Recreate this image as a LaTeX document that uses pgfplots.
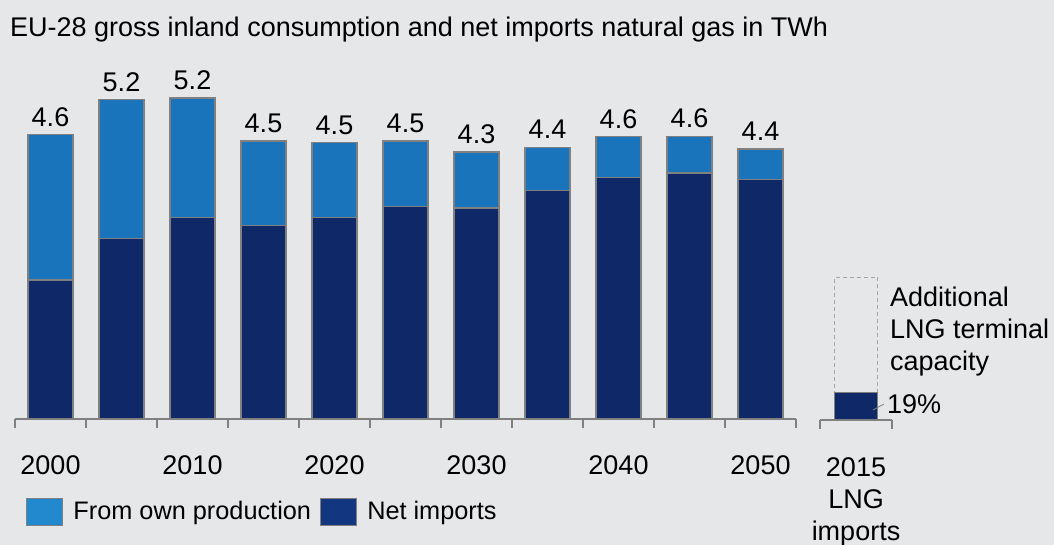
\documentclass[border=0pt]{standalone}
\usepackage{pgfplots}
\pgfplotsset{compat=1.18}
\usepackage{pgfplotstable}
\usepackage{fontspec}
\setmainfont{Liberation Sans}
\definecolor{bg}{HTML}{E6E7E9}
\definecolor{own}{HTML}{1A74BB}
\definecolor{net}{HTML}{0F2868}
\definecolor{ownleg}{HTML}{2389CF}
\definecolor{netleg}{HTML}{12367F}
\definecolor{edge}{HTML}{808080}
\newcommand{\bigfont}{\fontsize{27}{32}\selectfont}
\newcommand{\legfont}{\fontsize{25.3}{32}\selectfont}

\pgfplotstableread{
x net own total lab
0 2.26 2.36 4.62 4.6
1 2.94 2.25 5.19 5.2
2 3.27 1.95 5.22 5.2
3 3.14 1.38 4.52 4.5
4 3.27 1.22 4.49 4.5
5 3.46 1.06 4.52 4.5
6 3.43 0.91 4.34 4.3
7 3.72 0.70 4.42 4.4
8 3.93 0.66 4.59 4.6
9 4.00 0.60 4.60 4.6
10 3.89 0.50 4.39 4.4
}\gas

\begin{document}
\bigfont
\begin{tikzpicture}
\path[fill=bg, use as bounding box] (0pt,0pt) rectangle (1054pt,-545pt);
\node[anchor=base west, inner sep=0, font=\bigfont] at (10pt,-37pt) {EU-28 gross inland consumption and net imports natural gas in TWh};
\begin{axis}[
  at={(15pt,-419pt)}, anchor=south west,
  scale only axis, width=781pt, height=369pt,
  xmin=-0.5, xmax=10.5, ymin=0, ymax=6,
  font=\bigfont,
  /pgf/number format/assume math mode=true,
  axis y line=none, axis x line=bottom,
  x axis line style={-, draw=edge, line width=1.2pt},
  xtick={0,2,4,6,8,10},
  xticklabels={2000,2010,2020,2030,2040,2050},
  minor xtick={-0.5,0.5,...,10.5},
  major tick length=0pt, minor tick length=9pt,
  tick align=outside,
  minor tick style={draw=edge, line width=1.2pt},
  xticklabel style={inner sep=0pt, anchor=north, yshift=-36pt},
  ybar stacked, bar width=45pt,
  clip=false,
  legend style={at={(axis description cs:0.0141,-0.214)}, anchor=north west,
    draw=none, fill=none, inner sep=0pt, legend columns=2, font=\legfont,
    /tikz/every even column/.append style={column sep=9pt},
    nodes={inner sep=0pt, anchor=west}},
  legend image code/.code={\draw[#1, draw=edge, line width=1.2pt] (0pt,-13.5pt) rectangle (36pt,13.5pt);},
  legend cell align=left,
]
\addlegendimage{fill=ownleg}
\addlegendentry{\hspace{10pt}From own production}
\addlegendimage{fill=netleg}
\addlegendentry{\hspace{10pt}Net imports}
\addplot[fill=net, draw=edge, line width=1.2pt, forget plot] table[x=x, y=net] {\gas};
\addplot[fill=own, draw=edge, line width=1.2pt, forget plot] table[x=x, y=own] {\gas};
\pgfplotsinvokeforeach{0,...,10}{
  \pgfplotstablegetelem{#1}{total}\of{\gas}\let\tot\pgfplotsretval
  \pgfplotstablegetelem{#1}{lab}\of{\gas}\let\lab\pgfplotsretval
  \edef\temp{\noexpand\node[anchor=south, inner sep=0pt, yshift=8pt, font=\noexpand\bigfont] at (axis cs:#1,\tot) {\lab};}
  \temp
}
\end{axis}
\begin{axis}[
  at={(820pt,-420pt)}, anchor=south west,
  scale only axis, width=72pt, height=143pt,
  xmin=-0.5, xmax=0.5, ymin=0, ymax=100,
  font=\bigfont,
  axis y line=none, axis x line=bottom,
  x axis line style={-, draw=edge, line width=1.2pt},
  xtick={0}, xticklabels={2015\\LNG\\imports},
  minor xtick={-0.5,0.5},
  major tick length=0pt, minor tick length=9pt,
  tick align=outside,
  minor tick style={draw=edge, line width=1.2pt},
  xticklabel style={inner sep=0pt, anchor=north, yshift=-37pt, align=center},
  clip=false,
]
\addplot[ybar, bar width=43pt, bar shift=0pt, fill=none, draw=gray!70, line width=1pt, dash pattern=on 4pt off 3pt] coordinates {(0,100)};
\addplot[ybar, bar width=43pt, bar shift=0pt, fill=net, draw=edge, line width=1.2pt] coordinates {(0,19)};
\end{axis}
\node[anchor=base west, inner sep=0, font=\bigfont] at (890pt,-306pt) {Additional};
\node[anchor=base west, inner sep=0, font=\bigfont] at (890pt,-338pt) {LNG terminal};
\node[anchor=base west, inner sep=0, font=\bigfont] at (890pt,-370pt) {capacity};
\node[anchor=base west, inner sep=0, font=\bigfont] at (887pt,-413pt) {19\%};
\draw[edge, line width=0.8pt] (873pt,-410pt) -- (884pt,-404pt);
\end{tikzpicture}
\end{document}
